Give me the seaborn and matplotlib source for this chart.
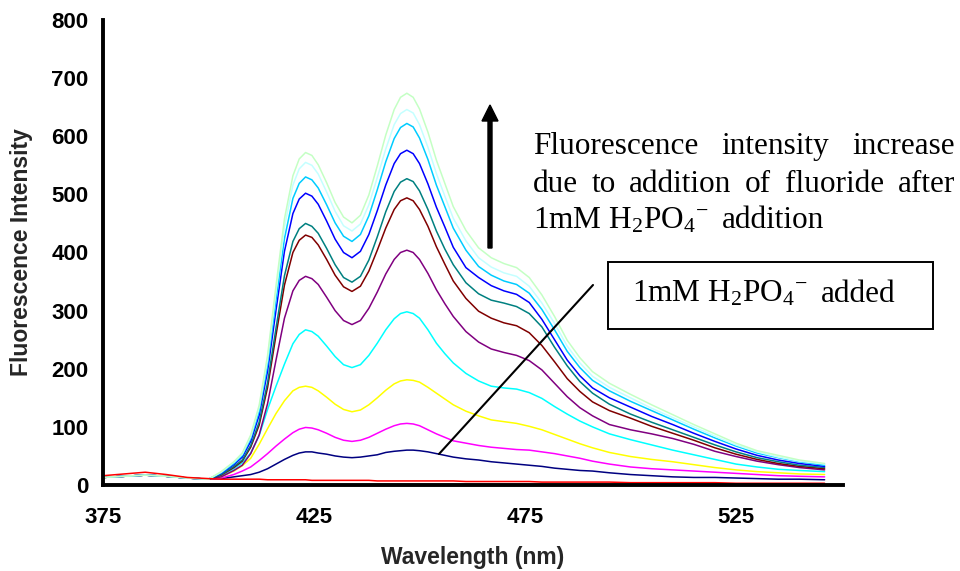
import numpy as np
import pandas as pd
import matplotlib
matplotlib.use("Agg")
import matplotlib.pyplot as plt
import matplotlib.patches as mpatches
from matplotlib.lines import Line2D
import seaborn as sns

# ---------------- data ----------------
wavelength = [375, 380, 385, 390, 395, 400,
              403, 406, 408, 410, 412, 414,
              416, 418, 420, 421.5, 423, 424.5,
              426, 428, 430, 432, 434, 436,
              438, 440, 442, 444, 445.5, 447,
              448.5, 450, 452, 454, 456, 458,
              461, 464, 467, 470, 473, 476,
              479, 482, 485, 488, 491, 495,
              500, 505, 510, 515, 520, 525,
              530, 535, 540, 546]

palegreen = [13, 15, 17, 15, 12, 10, 23, 40, 55, 86, 137, 223,
             343, 458, 532, 561, 572, 567, 551, 520, 486, 461, 451, 464,
             499, 549, 602, 646, 667, 674, 667, 647, 607, 559, 519, 479,
             438, 408, 391, 381, 374, 357, 327, 290, 249, 219, 195, 175,
             156, 138, 121, 104, 88, 72, 59, 51, 43, 37]
lightcyan = [13, 15, 17, 15, 12, 10, 22, 39, 53, 83, 133, 216,
             333, 444, 516, 544, 555, 550, 535, 504, 471, 446, 437, 449,
             482, 529, 578, 620, 639, 646, 640, 620, 581, 536, 497, 459,
             420, 391, 375, 365, 359, 342, 313, 278, 239, 210, 187, 168,
             150, 132, 116, 100, 84, 69, 57, 48, 41, 36]
deepsky = [13, 15, 17, 15, 12, 10, 21, 37, 51, 80, 127, 207,
           318, 424, 493, 519, 530, 525, 511, 482, 451, 428, 419, 431,
           463, 508, 556, 596, 615, 622, 616, 597, 560, 516, 479, 442,
           404, 376, 361, 351, 345, 330, 302, 267, 230, 202, 180, 162,
           144, 128, 112, 96, 81, 67, 55, 47, 40, 34]
blue = [13, 15, 17, 15, 12, 10, 20, 35, 48, 75, 120, 196,
        301, 402, 467, 492, 502, 497, 483, 454, 423, 400, 391, 402,
        431, 472, 516, 553, 570, 576, 570, 553, 518, 478, 444, 409,
        374, 357, 343, 334, 328, 314, 285, 250, 215, 188, 167, 150,
        134, 118, 104, 89, 75, 62, 51, 43, 37, 32]
teal = [13, 15, 17, 15, 12, 10, 18, 32, 43, 68, 108, 176,
        270, 360, 419, 441, 450, 445, 433, 407, 379, 357, 349, 359,
        387, 427, 470, 505, 521, 527, 522, 506, 474, 437, 406, 379,
        348, 329, 318, 313, 307, 295, 272, 237, 205, 178, 158, 139,
        122, 108, 95, 82, 69, 57, 47, 40, 34, 30]
darkred = [13, 15, 17, 15, 12, 10, 17, 30, 41, 65, 103, 168,
           258, 344, 400, 421, 430, 426, 413, 388, 361, 341, 333, 342,
           368, 404, 442, 474, 489, 494, 489, 474, 445, 410, 380, 351,
           321, 299, 287, 279, 274, 262, 240, 212, 183, 161, 143, 128,
           115, 101, 89, 77, 64, 53, 44, 37, 32, 28]
purple = [13, 15, 17, 15, 12, 10, 14, 25, 34, 54, 86, 140,
          215, 287, 334, 352, 359, 355, 345, 323, 300, 283, 276, 283,
          304, 332, 363, 388, 400, 404, 400, 388, 364, 336, 312, 290,
          264, 246, 234, 228, 223, 214, 198, 175, 152, 133, 119, 104,
          95, 88, 80, 70, 58, 49, 41, 35, 30, 26]
cyan = [13, 15, 17, 15, 12, 10, 16, 28, 38, 55, 85, 130,
        170, 208, 243, 259, 267, 264, 256, 239, 221, 207, 202, 207,
        223, 244, 267, 286, 295, 298, 295, 287, 267, 244, 226, 210,
        192, 179, 170, 167, 165, 159, 149, 135, 122, 110, 100, 88,
        78, 69, 60, 52, 44, 36, 31, 27, 25, 23]
yellow = [13, 15, 17, 15, 12, 10, 14, 24, 33, 46, 70, 97,
          123, 145, 162, 168, 170, 168, 162, 151, 139, 130, 126, 129,
          138, 150, 163, 174, 179, 181, 180, 177, 168, 158, 148, 138,
          127, 119, 112, 109, 106, 101, 95, 87, 79, 71, 64, 56,
          49, 44, 40, 35, 30, 26, 23, 21, 19, 18]
magenta = [13, 15, 17, 15, 12, 10, 12, 18, 24, 31, 42, 54,
           67, 79, 90, 96, 99, 98, 95, 89, 82, 77, 75, 77,
           82, 89, 96, 102, 105, 106, 105, 102, 95, 88, 82, 76,
           72, 68, 65, 63, 61, 60, 57, 54, 50, 46, 41, 36,
           31, 28, 26, 24, 22, 20, 18, 16, 15, 14]
navy = [13, 15, 17, 15, 12, 10, 11, 14, 16, 18, 22, 28,
        36, 44, 51, 55, 57, 57, 55, 53, 50, 48, 47, 48,
        50, 52, 56, 58, 59, 60, 60, 59, 57, 54, 51, 48,
        45, 43, 40, 38, 36, 34, 32, 29, 27, 25, 24, 21,
        18, 16, 14, 13, 13, 12, 11, 10, 10, 9]
red = [16, 19, 22, 18, 13, 11, 10, 10, 10, 10, 10, 9,
       9, 9, 9, 9, 9, 8, 8, 8, 8, 8, 8, 8,
       8, 7, 7, 7, 7, 7, 7, 7, 7, 7, 7, 7,
       6, 6, 6, 6, 6, 6, 5, 5, 5, 5, 5, 5,
       4, 4, 4, 4, 4, 3, 3, 3, 3, 3]

series_names = ["navy", "magenta", "yellow", "cyan", "purple", "darkred",
                "teal", "blue", "deepsky", "lightcyan", "palegreen", "red"]
series_values = [navy, magenta, yellow, cyan, purple, darkred,
                 teal, blue, deepsky, lightcyan, palegreen, red]
series_colors = ["#000080", "#FF00FF", "#FFFF00", "#00FFFF", "#800080", "#800000",
                 "#008080", "#0000FF", "#00CCFF", "#C4FFFF", "#C4FFC4", "#FF0000"]

x_ticks = [375, 425, 475, 525]
y_ticks = [0, 100, 200, 300, 400, 500, 600, 700, 800]

# ---------------- build long table ----------------
frames = []
for name, vals in zip(series_names, series_values):
    frames.append(pd.DataFrame({"Wavelength": wavelength, "Intensity": vals, "series": name}))
df = pd.concat(frames, ignore_index=True)

# ---------------- figure ----------------
sns.set_style("white")
plt.rcParams["font.family"] = ["Liberation Sans", "DejaVu Sans"]
plt.rcParams["mathtext.fontset"] = "custom"
plt.rcParams["mathtext.rm"] = "Liberation Serif"
plt.rcParams["mathtext.it"] = "Liberation Serif:italic"
plt.rcParams["mathtext.bf"] = "Liberation Serif:bold"

W, H = 960, 571
fig = plt.figure(figsize=(W / 100, H / 100), dpi=100)
ax = fig.add_axes([103 / W, 1 - 485 / H, 740 / W, 465 / H])

sns.lineplot(data=df, x="Wavelength", y="Intensity", hue="series",
             hue_order=series_names, palette=dict(zip(series_names, series_colors)),
             linewidth=1.1, legend=False, ax=ax, sort=False)

ax.set_xlim(375, 375 + 740 / 4.22)
ax.set_ylim(0, 800)
ax.set_xticks(x_ticks)
ax.set_yticks(y_ticks)
ax.set_xticklabels([str(t) for t in x_ticks])
ax.set_yticklabels([str(t) for t in y_ticks])
for s in ["top", "right"]:
    ax.spines[s].set_visible(False)
for s in ["left", "bottom"]:
    ax.spines[s].set_linewidth(2.8)
    ax.spines[s].set_color("black")
ax.tick_params(axis="x", direction="out", length=5.5, width=2.6, pad=10,
               labelsize=16, colors="black")
ax.tick_params(axis="y", direction="out", length=4.5, width=2.6, pad=6,
               labelsize=16, colors="black")
for lab in ax.get_xticklabels() + ax.get_yticklabels():
    lab.set_fontweight("bold")
ax.set_xlabel("Wavelength (nm)", fontsize=16.5, fontweight="bold", labelpad=13)
ax.set_ylabel("Fluorescence Intensity", fontsize=16.5, fontweight="bold", labelpad=13)
ax.grid(False)

# ---------------- annotations (figure pixel coords) ----------------
def fx(px):
    return px / W

def fy(py):
    return 1 - py / H

serif = dict(family=["Liberation Serif", "DejaVu Serif"], fontsize=22.5, color="black",
             va="baseline", ha="left", transform=fig.transFigure)
sub_txt = r"1mM H$_{\mathrm{2}}$PO$_{\mathrm{4}}$$^{\mathrm{-}}$"

renderer = fig.canvas.get_renderer()

def justified(words, x0, x1, baseline):
    texts = [fig.text(0, fy(baseline), w, **serif) for w in words]
    widths = [t.get_window_extent(renderer=renderer).width for t in texts]
    gap = (x1 - x0 - sum(widths)) / (len(words) - 1)
    x = x0
    for t, wd in zip(texts, widths):
        t.set_x(fx(x))
        x += wd + gap

def formula_then_word(x0, baseline, word, x_word, min_gap):
    t = fig.text(fx(x0), fy(baseline), sub_txt, **serif)
    right = t.get_window_extent(renderer=renderer).x1
    fig.text(fx(max(x_word, right + min_gap)), fy(baseline), word, **serif)

justified(["Fluorescence", "intensity", "increase"], 532.7, 955, 154)
justified(["due", "to", "addition", "of", "fluoride", "after"], 532.7, 955, 191.7)
formula_then_word(532.7, 228.3, "addition", 720, 14)

# boxed label
rect = mpatches.Rectangle((fx(608.3), fy(329.3)), fx(933.3) - fx(608.3), fy(261.7) - fy(329.3),
                          transform=fig.transFigure, fill=False, edgecolor="black", linewidth=1.4)
fig.patches.append(rect)
formula_then_word(631.7, 301.7, "added", 810.7, 14)

# vertical arrow
arrow = mpatches.FancyArrow(fx(490), fy(248), 0, fy(105) - fy(248),
                            width=4 / W, head_width=16 / W, head_length=16 / H,
                            length_includes_head=True, color="black",
                            transform=fig.transFigure)
fig.patches.append(arrow)

# pointer line
fig.lines.append(Line2D([fx(439), fx(593)], [fy(454), fy(285)], color="black",
                        linewidth=1.5, transform=fig.transFigure))

fig.savefig("out.png", dpi=100)
